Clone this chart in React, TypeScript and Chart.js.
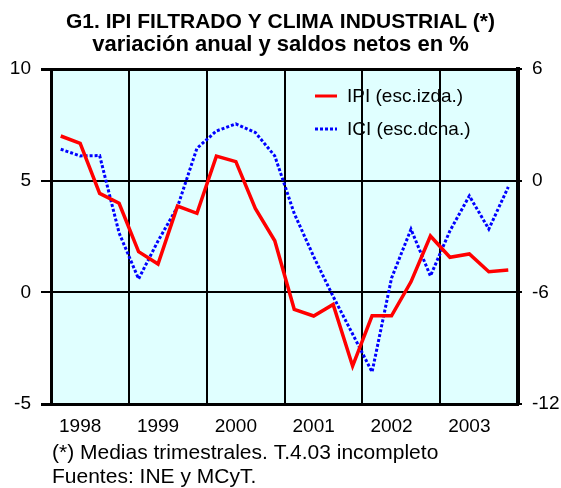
import React, { useEffect, useRef } from 'react';
import { Chart, registerables } from 'chart.js';

Chart.register(...registerables);

// ---- data ----
const years = ['1998', '1999', '2000', '2001', '2002', '2003'];
const quarters = ['T1', 'T2', 'T3', 'T4'];
const quarterLabels = years.flatMap((y) => quarters.map((q) => `${q} ${y}`));

// IPI filtrado, variación anual % (escala izquierda)
const ipi = [
  7.0, 6.67, 4.43, 3.99,
  1.82, 1.27, 3.86, 3.54,
  6.1, 5.85, 3.76, 2.31,
  -0.76, -1.06, -0.54, -3.3,
  -1.05, -1.05, 0.47, 2.52,
  1.57, 1.72, 0.92, 1.0,
];

// ICI clima industrial, saldos netos (escala derecha)
const ici = [
  1.69, 1.33, 1.35, -2.81,
  -5.28, -3.24, -1.41, 1.74,
  2.67, 3.05, 2.59, 1.33,
  -1.76, -4.08, -6.22, -8.24,
  -10.28, -5.24, -2.61, -5.12,
  -2.7, -0.82, -2.6, -0.34,
];

const leftMin = -5;
const leftMax = 10;
const leftStep = 5;
const rightMin = -12;
const rightMax = 6;
const rightStep = 6;

const titleText = 'G1. IPI FILTRADO Y CLIMA INDUSTRIAL (*)';
const subtitleText = 'variación anual y saldos netos en %';
const footerLines = ['(*) Medias trimestrales. T.4.03 incompleto', 'Fuentes: INE y MCyT.'];
const seriesLabels = ['IPI (esc.izda.)', 'ICI (esc.dcha.)'];

const FONT = '"Liberation Sans", Arial, Helvetica, sans-serif';

const bgPlugin = {
  id: 'plotBg',
  beforeDraw(chart: any) {
    const { ctx, chartArea } = chart;
    ctx.save();
    ctx.fillStyle = '#E0FFFF';
    ctx.fillRect(chartArea.left, chartArea.top, chartArea.right - chartArea.left, chartArea.bottom - chartArea.top);
    ctx.restore();
  },
};

const legendPlugin = {
  id: 'innerLegend',
  afterDatasetsDraw(chart: any) {
    const { ctx, chartArea } = chart;
    ctx.save();
    chart.data.datasets.forEach((ds: any, i: number) => {
      const y = chartArea.top + 27 + i * 33;
      const x0 = chartArea.right - 203;
      ctx.strokeStyle = ds.borderColor;
      ctx.lineWidth = 3;
      ctx.setLineDash(ds.borderDash || []);
      ctx.beginPath();
      ctx.moveTo(x0, y);
      ctx.lineTo(x0 + 22, y);
      ctx.stroke();
      ctx.setLineDash([]);
      ctx.fillStyle = '#000';
      ctx.font = `19px ${FONT}`;
      ctx.textBaseline = 'middle';
      ctx.textAlign = 'left';
      ctx.fillText(ds.label, x0 + 32, y + 1);
    });
    ctx.restore();
  },
};

const footerPlugin = {
  id: 'footerNote',
  afterDraw(chart: any) {
    const { ctx } = chart;
    ctx.save();
    ctx.fillStyle = '#000';
    ctx.font = `21px ${FONT}`;
    ctx.textBaseline = 'middle';
    ctx.textAlign = 'left';
    footerLines.forEach((t, i) => ctx.fillText(t, 52, 453 + i * 24));
    ctx.restore();
  },
};

export default function App() {
  const ref = useRef<HTMLCanvasElement | null>(null);

  useEffect(() => {
    if (!ref.current) return;
    const chart = new Chart(ref.current, {
      type: 'line',
      data: {
        labels: quarterLabels,
        datasets: [
          {
            label: seriesLabels[0],
            data: ipi,
            yAxisID: 'y',
            borderColor: '#FF0000',
            backgroundColor: '#FF0000',
            borderWidth: 3.5,
            pointRadius: 0,
            tension: 0,
            fill: false,
          },
          {
            label: seriesLabels[1],
            data: ici,
            yAxisID: 'y1',
            borderColor: '#0000FF',
            backgroundColor: '#0000FF',
            borderWidth: 3,
            borderDash: [3, 2],
            pointRadius: 0,
            tension: 0,
            fill: false,
          },
        ],
      },
      options: {
        animation: false,
        responsive: false,
        devicePixelRatio: 1,
        layout: { padding: { left: 0, right: 0, top: 0, bottom: 44 } },
        plugins: {
          legend: { display: false },
          tooltip: { enabled: false },
          title: {
            display: true,
            text: titleText,
            color: '#000',
            font: { family: FONT, size: 21, weight: 'bold', lineHeight: 1 },
            padding: { top: 11.5, bottom: 0 },
          },
          subtitle: {
            display: true,
            text: subtitleText,
            color: '#000',
            font: { family: FONT, size: 22, weight: 'bold', lineHeight: 1 },
            padding: { top: 1.5, bottom: 13 },
          },
        },
        scales: {
          x: {
            type: 'category',
            offset: true,
            afterFit: (s: any) => { s.height = 40; },
            grid: {
              offset: true,
              drawTicks: false,
              color: (c: any) => (c.index === undefined || c.index % 4 === 0 ? '#000' : 'rgba(0,0,0,0)'),
              lineWidth: 2,
            },
            border: { display: true, color: '#000', width: 3 },
            ticks: {
              autoSkip: false,
              maxRotation: 0,
              padding: 11,
              color: '#000',
              font: { family: FONT, size: 19 },
              callback: (_v: any, i: number) => (i % 4 === 1 ? years[Math.floor(i / 4)] : ''),
            },
          },
          y: {
            position: 'left',
            min: leftMin,
            max: leftMax,
            afterFit: (s: any) => { s.width = 51; },
            grid: {
              color: '#000',
              lineWidth: (c: any) => (c.tick && (c.tick.value === leftMax || c.tick.value === leftMin) ? 3 : 2),
              tickLength: 10,
            },
            border: { display: true, color: '#000', width: 3 },
            ticks: {
              stepSize: leftStep,
              padding: 10,
              color: '#000',
              font: { family: FONT, size: 19 },
            },
          },
          y1: {
            position: 'right',
            min: rightMin,
            max: rightMax,
            afterFit: (s: any) => { s.width = 43; },
            grid: {
              drawOnChartArea: false,
              color: '#000',
              lineWidth: 2,
              tickLength: 4,
            },
            border: { display: true, color: '#000', width: 4 },
            ticks: {
              stepSize: rightStep,
              padding: 10,
              color: '#000',
              font: { family: FONT, size: 19 },
            },
          },
        },
      },
      plugins: [bgPlugin, legendPlugin, footerPlugin],
    } as any);
    return () => chart.destroy();
  }, []);

  return (
    <canvas
      ref={ref}
      width={561}
      height={488}
      style={{ position: 'fixed', left: 0, top: 0, width: 561, height: 488, background: '#fff' }}
    />
  );
}
